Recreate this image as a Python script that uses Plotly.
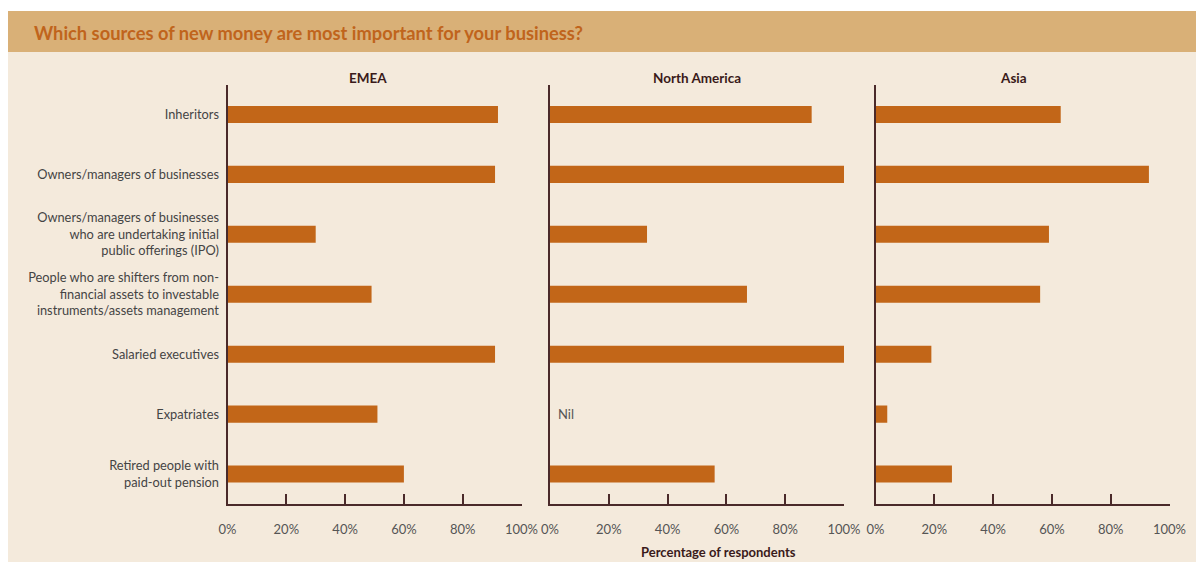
import plotly.graph_objects as go

W, H = 1196, 564

categories = [
    "Inheritors",
    "Owners/managers of businesses",
    "Owners/managers of businesses who are undertaking initial public offerings (IPO)",
    "People who are shifters from non-financial assets to investable instruments/assets management",
    "Salaried executives",
    "Expatriates",
    "Retired people with paid-out pension",
]
category_labels = [
    "Inheritors",
    "Owners/managers of businesses",
    "Owners/managers of businesses<br>who are undertaking initial<br>public offerings (IPO)",
    "People who are shifters from non-<br>financial assets to investable<br>instruments/assets management",
    "Salaried executives",
    "Expatriates",
    "Retired people with<br>paid-out pension",
]
regions = ["EMEA", "North America", "Asia"]
emea = [92, 91, 30, 49, 91, 51, 60]
north_america = [89, 100, 33, 67, 100, None, 56]
asia = [63, 93, 59, 56, 19, 4, 26]
series = [emea, north_america, asia]
tick_vals = [0, 20, 40, 60, 80, 100]
tick_text = ["0%", "20%", "40%", "60%", "80%", "100%"]

BAR = "#C26618"
AXIS = "#4A2A2A"
FONT = "Lato, 'Open Sans', sans-serif"

def px(x):
    return x / W

def py(y):
    return 1 - y / H

x_domains = [(227.5, 521.5), (550, 844), (875.5, 1169.5)]
y_domain = [py(504), py(84.5)]
header_x = [368, 697, 1013]

fig = go.Figure()
for i, (vals, name) in enumerate(zip(series, regions)):
    suffix = "" if i == 0 else str(i + 1)
    fig.add_trace(go.Bar(
        x=vals, y=categories, orientation="h",
        marker=dict(color=BAR, line=dict(width=0)),
        width=0.285, name=name, showlegend=False,
        xaxis="x" + suffix, yaxis="y" + suffix,
        hoverinfo="x+y",
    ))
    fig.layout["xaxis" + suffix] = dict(
        domain=[px(x_domains[i][0]), px(x_domains[i][1])],
        range=[0, 100], anchor="y" + suffix,
        showgrid=False, zeroline=False,
        showline=True, linecolor=AXIS, linewidth=2,
        ticks="inside", ticklen=10, tickwidth=1.5, tickcolor=AXIS,
        tickvals=tick_vals, ticktext=tick_text,
        ticklabelstandoff=12,
        tickfont=dict(family=FONT, size=13, color="#555555"),
        fixedrange=True,
    )
    fig.layout["yaxis" + suffix] = dict(
        domain=y_domain, anchor="x" + suffix,
        type="category", categoryorder="array", categoryarray=categories,
        range=[6.5, -0.5],
        showgrid=False, zeroline=False,
        showline=True, linecolor=AXIS, linewidth=2,
        ticks="", showticklabels=(i == 0),
        tickvals=categories, ticktext=category_labels,
        ticklabelstandoff=4,
        tickfont=dict(family=FONT, size=12.8, color="#444444"),
        fixedrange=True,
    )
    fig.add_annotation(
        x=px(header_x[i]), y=py(78), xref="paper", yref="paper",
        text="<b>%s</b>" % name, showarrow=False,
        font=dict(family=FONT, size=13.5, color="#3A1A1A"),
        xanchor="center", yanchor="middle",
    )

# "Nil" marker for North America expatriates
fig.add_annotation(
    x=0, y=categories[5], xref="x2", yref="y2",
    text="Nil", showarrow=False, xanchor="left", xshift=6,
    font=dict(family=FONT, size=13, color="#555555"),
)

fig.add_annotation(
    x=px(32), y=py(33), xref="paper", yref="paper",
    text="<b>Which sources of new money are most important for your business?</b>",
    showarrow=False, xanchor="left", yanchor="middle",
    font=dict(family=FONT, size=18.3, color="#C0641C"),
)
fig.add_annotation(
    x=px(718), y=py(552), xref="paper", yref="paper",
    text="<b>Percentage of respondents</b>", showarrow=False,
    xanchor="center", yanchor="middle",
    font=dict(family=FONT, size=13, color="#3A1A1A"),
)

fig.update_layout(
    width=W, height=H,
    margin=dict(l=0, r=0, t=0, b=0, autoexpand=False),
    paper_bgcolor="white", plot_bgcolor="rgba(0,0,0,0)",
    bargap=0.7,
    shapes=[
        dict(type="rect", xref="paper", yref="paper", layer="below",
             x0=px(8), x1=1, y0=py(562), y1=py(52),
             fillcolor="#F4EADC", line=dict(width=0)),
        dict(type="rect", xref="paper", yref="paper", layer="below",
             x0=px(8), x1=1, y0=py(52), y1=py(11),
             fillcolor="#D9B077", line=dict(width=0)),
    ],
)

fig.write_html("out.html")
